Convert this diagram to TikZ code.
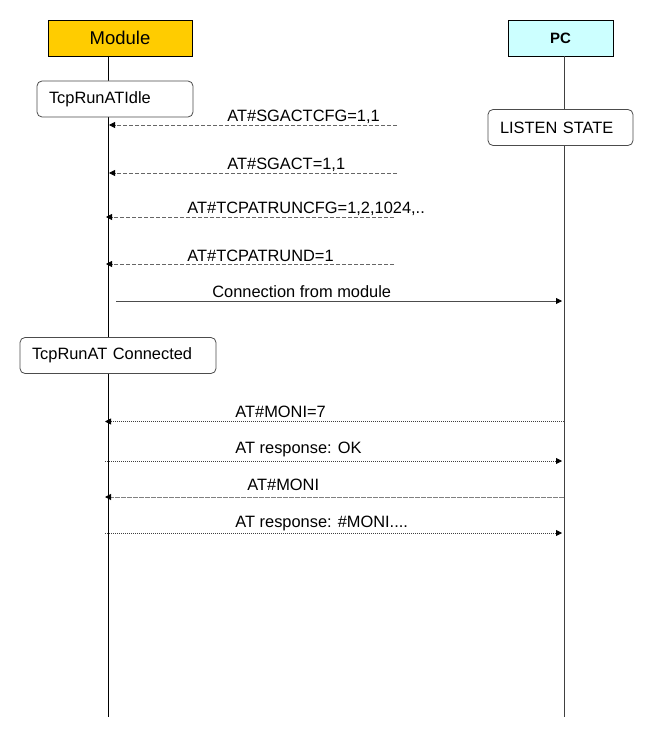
\documentclass[tikz,border=0pt]{standalone}
\usepackage{fontspec}
\setmainfont{Liberation Sans}
\usetikzlibrary{arrows.meta,positioning}
\definecolor{modulegold}{HTML}{FFCC00}
\definecolor{pccyan}{HTML}{CCFFFF}

\begin{document}
\begin{tikzpicture}[x=1pt,y=-1pt,line width=0.8pt,font=\fontsize{16.4}{19}\selectfont,
  actor/.style={draw,minimum height=36pt,inner sep=0pt},
  statebox/.style={draw=black!70,fill=white,rounded corners=5pt,minimum height=36pt,inner xsep=12pt,inner ysep=0pt,text width=#1,align=left},
  lifeline/.style={line width=1pt},
  tip/.tip={Triangle[length=6pt,width=6pt,black]},
  msgdash/.style={draw=black!60,dash pattern=on 4pt off 2pt,-tip},
  msgdot/.style={draw=black!75,dash pattern=on 1pt off 1pt,-tip},
  msglabel/.style={anchor=base west,inner sep=0pt}]
  \useasboundingbox (0,0) rectangle (645,730);
  %actors
  \node[actor,fill=modulegold,minimum width=144pt,font=\fontsize{18.5}{22}\selectfont] (module) at (120,38) {Module};
  \node[actor,fill=pccyan,minimum width=105pt,font=\bfseries\fontsize{15}{18}\selectfont] (pc) at (560.5,38) {PC};
  %lifelines
  \coordinate (mtop) at (108,56);
  \coordinate (mend) at (108,717);
  \coordinate (ptop) at (564,56);
  \coordinate (pend) at (564,717);
  \draw[lifeline] (mtop) -- (mend);
  \draw[lifeline,black!75] (ptop) -- (pend);
  %states
  \node[statebox=132pt] (idle) at (115,99) {TcpRunATIdle};
  \node[statebox=121pt] (listen) at (560.5,127.5) {LISTEN STATE};
  \node[statebox=172pt] (connected) at (118,355.5) {TcpRunAT Connected};

  %configuration from the module side
  \coordinate (s1) at (397,125);
  \draw[msgdash] (s1) -- ([xshift=1pt]s1 -| mtop);
  \node[msglabel] (l1) at (227,122) {AT\#SGACTCFG=1,1};
  \coordinate (s2) at (397,173);
  \draw[msgdash] (s2) -- ([xshift=1pt]s2 -| mtop);
  \node[msglabel] (l2) at (227,170) {AT\#SGACT=1,1};
  \coordinate (s3) at (394,217);
  \draw[msgdash] (s3) -- ([xshift=-2pt]s3 -| mtop);
  \node[msglabel] (l3) at (187,213) {AT\#TCPATRUNCFG=1,2,1024,..};
  \coordinate (s4) at (394,264);
  \draw[msgdash] (s4) -- ([xshift=-2pt]s4 -| mtop);
  \node[msglabel] (l4) at (187,261) {AT\#TCPATRUND=1};
  %connection
  \coordinate (s5) at (116,301);
  \draw[-tip,black!70,shorten >=2pt] (s5) -- (s5 -| ptop);
  \node[msglabel] (l5) at (212,297.5) {Connection from module};

  %commands from the pc side
  \coordinate (m6) at (105,421.5);
  \draw[msgdot] (m6 -| ptop) -- (m6);
  \node[msglabel] (l6) at (235,417) {AT\#MONI=7};
  \coordinate (m7) at (105,461);
  \draw[msgdot,shorten >=2pt] (m7) -- (m7 -| ptop);
  \node[msglabel] (l7) at (235,453) {AT response: OK};
  \coordinate (m8) at (105,497);
  \draw[msgdot,black!50,line width=1pt,dash pattern=on 0.6pt off 0.6pt] (m8 -| ptop) -- (m8);
  \node[msglabel] (l8) at (247,490) {AT\#MONI};
  \coordinate (m9) at (105,533);
  \draw[msgdot,shorten >=2pt] (m9) -- (m9 -| ptop);
  \node[msglabel] (l9) at (235,527) {AT response: \#MONI....};
\end{tikzpicture}
\end{document}
